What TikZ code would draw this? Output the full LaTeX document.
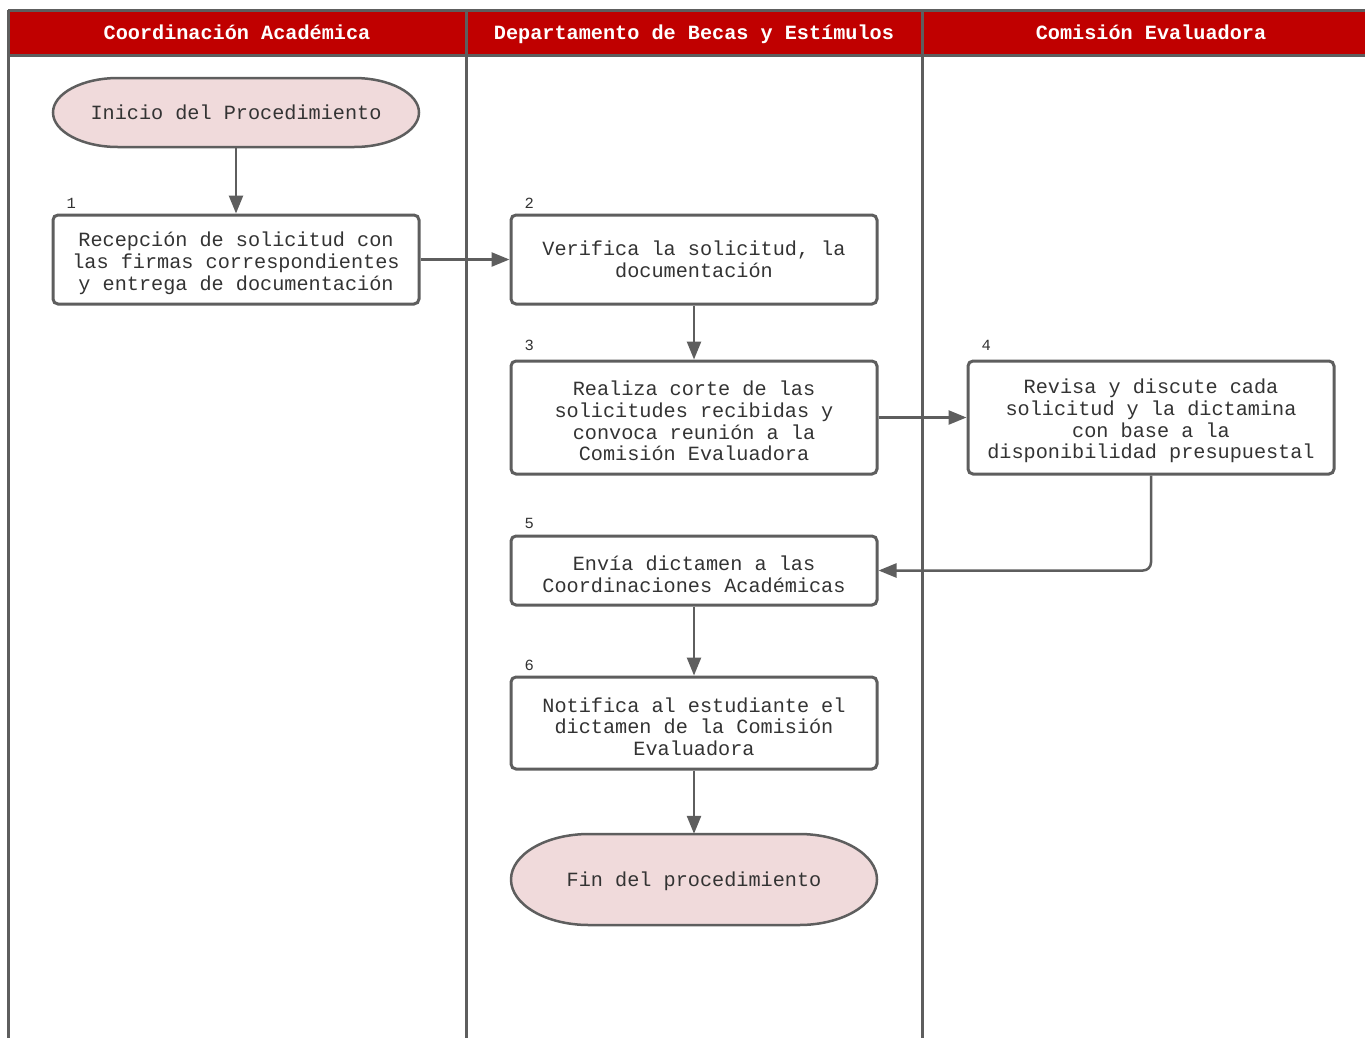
\documentclass[tikz,border=0pt]{standalone}
\usepackage{fontspec}
\newfontfamily\monofont{Liberation Mono}
\usetikzlibrary{arrows.meta,calc}
\definecolor{hdrred}{HTML}{C00000}
\definecolor{lineg}{HTML}{5E5E5E}
\definecolor{txtg}{HTML}{333333}
\definecolor{pinkf}{HTML}{F0DADB}
\newcommand\tallstrut{\rule{0pt}{22pt}}
\newcommand\termoutline[4]{% center coordinate, W, H, rx
  \begin{scope}[shift={(#1)}]
    \filldraw[termline]
      ({-#2/2+#4},{-#3/2}) -- ({#2/2-#4},{-#3/2})
      .. controls ({#2/2-#4+0.552*#4},{-#3/2}) and ({#2/2},{-0.552*#3/2}) .. ({#2/2},0)
      .. controls ({#2/2},{0.552*#3/2}) and ({#2/2-#4+0.552*#4},{#3/2}) .. ({#2/2-#4},{#3/2})
      -- ({-#2/2+#4},{#3/2})
      .. controls ({-#2/2+#4-0.552*#4},{#3/2}) and ({-#2/2},{0.552*#3/2}) .. ({-#2/2},0)
      .. controls ({-#2/2},{-0.552*#3/2}) and ({-#2/2+#4-0.552*#4},{-#3/2}) .. cycle;
  \end{scope}}
\begin{document}
\begin{tikzpicture}[x=1pt,y=-1pt,
  every node/.style={font=\monofont\fontsize{20.2}{21.7}\selectfont, text=txtg},
  lane/.style={draw=lineg, line width=3pt},
  hdrtext/.style={font=\monofont\bfseries\fontsize{20.2}{22}\selectfont, text=white,
    text height=15.5pt, text depth=0pt},
  procbox/.style={draw=lineg, line width=3pt, rounded corners=5pt, fill=white,
    minimum width=366pt, inner sep=0pt, align=center},
  termline/.style={draw=lineg, line width=2.5pt, fill=pinkf},
  termtext/.style={minimum width=366pt, inner sep=0pt, align=center},
  numlabel/.style={font=\monofont\fontsize{15.5}{15.5}\selectfont, text=txtg, inner sep=0pt},
  flow/.style={draw=lineg, line width=2.5pt, -{Triangle[length=18pt,width=14pt]}}
]
\useasboundingbox (0,0) rectangle (1365,1037);
\fill[white] (0,0) rectangle (1365,1037);
% pool frame
\fill[hdrred] (8,10) rectangle (1385,55);
\draw[lane] (8,10) -- (1385,10);
\draw[lane] (8,55) -- (1385,55);
\draw[lane] (8,10) -- (8,1045);
\draw[lane] (466,10) -- (466,1045);
\draw[lane] (922,10) -- (922,1045);
\node[hdrtext] (h1) at (237,32) {Coordinación Académica};
\node[hdrtext] (h2) at (694,32) {Departamento de Becas y Estímulos};
\node[hdrtext] (h3) at (1151,32) {Comisión Evaluadora};
% terminators
\coordinate (inic) at (236,112.5);
\coordinate (finc) at (694,879.5);
\termoutline{inic}{366}{69}{65}
\termoutline{finc}{366}{91}{78}
\node[termtext, minimum height=69pt] (ini) at (inic) {Inicio del Procedimiento};
\node[termtext, minimum height=91pt, text height=19pt, text depth=4.5pt] (fin) at (finc) {Fin del procedimiento};
% process boxes
\node[procbox, minimum height=89pt] (n1) at (236,259.5) {\tallstrut Recepción de solicitud con\\las firmas correspondientes\\y entrega de documentación};
\node[procbox, minimum height=89pt] (n2) at (694,259.5) {Verifica la solicitud, la\\documentación};
\node[procbox, minimum height=113pt] (n3) at (694,417.5) {\tallstrut Realiza corte de las\\solicitudes recibidas y\\convoca reunión a la\\Comisión Evaluadora};
\node[procbox, minimum height=113pt] (n4) at (1151,417.5) {\tallstrut Revisa y discute cada\\solicitud y la dictamina\\con base a la\\disponibilidad presupuestal};
\node[procbox, minimum height=69pt] (n5) at (694,570.5) {\tallstrut Envía dictamen a las\\Coordinaciones Académicas};
\node[procbox, minimum height=92pt] (n6) at (694,723) {\tallstrut Notifica al estudiante el\\dictamen de la Comisión\\Evaluadora};
% step numbers
\node[numlabel, anchor=south west] (l1) at ([shift={(15,-5)}]n1.north west) {1};
\node[numlabel, anchor=south west] (l2) at ([shift={(15,-5)}]n2.north west) {2};
\node[numlabel, anchor=south west] (l3) at ([shift={(15,-9)}]n3.north west) {3};
\node[numlabel, anchor=south west] (l4) at ([shift={(15,-9)}]n4.north west) {4};
\node[numlabel, anchor=south west] (l5) at ([shift={(15,-6)}]n5.north west) {5};
\node[numlabel, anchor=south west] (l6) at ([shift={(15,-5)}]n6.north west) {6};
% connectors
\draw[flow] (ini.south) -- (n1.north);
\draw[flow] (n1.east) -- (n2.west);
\draw[flow] (n2.south) -- (n3.north);
\draw[flow] (n3.east) -- (n4.west);
\draw[flow, rounded corners=8pt] (n4.south) |- (n5.east);
\draw[flow] (n5.south) -- (n6.north);
\draw[flow] (n6.south) -- (fin.north);
\end{tikzpicture}
\end{document}
